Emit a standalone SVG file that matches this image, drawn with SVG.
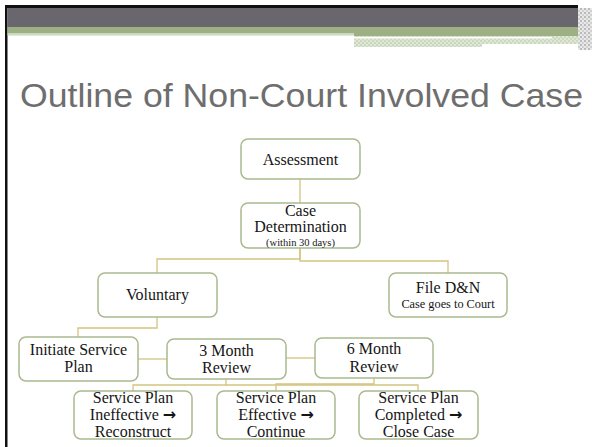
<svg xmlns="http://www.w3.org/2000/svg" width="592" height="447" viewBox="0 0 592 447">
<defs>
<pattern id="hatch" width="4" height="4" patternUnits="userSpaceOnUse">
<rect width="4" height="4" fill="#dfe7d6"/>
<rect width="2" height="2" fill="#cbd8bd"/>
<rect x="2" y="2" width="2" height="2" fill="#cbd8bd"/>
</pattern>
<pattern id="grayhatch" width="4" height="4" patternUnits="userSpaceOnUse">
<rect width="4" height="4" fill="#e4e4e4"/>
<rect width="2" height="2" fill="#a9a9a9"/>
<rect x="2" y="2" width="2" height="2" fill="#c4c4c4"/>
</pattern>
<style>
.node{fill:#ffffff;stroke:#a9ba8e;stroke-width:1.5}
.t{font-family:"Liberation Serif","Times New Roman",serif;font-size:16px;fill:#151515;text-anchor:middle}
.s{font-size:10.5px}
.m{font-size:12.3px}
.ar{font-family:"DejaVu Sans",sans-serif;font-weight:bold;font-size:16px}
.conn{fill:none;stroke:#d4c37f;stroke-width:1.3}
</style>
</defs>
<rect width="592" height="447" fill="#ffffff"/>
<!-- header -->
<rect x="5" y="5" width="573" height="3" fill="#111111"/>
<rect x="5" y="5" width="2.5" height="442" fill="#111111"/>
<rect x="7.5" y="8" width="570.5" height="19" fill="#6a666e"/>
<rect x="7.5" y="27" width="570.5" height="6" fill="#9db083"/>
<rect x="7.5" y="33" width="346.5" height="2.5" fill="#cbd7bf"/>
<rect x="354" y="33" width="224" height="3" fill="#9db083"/>
<rect x="354" y="36" width="224" height="8" fill="url(#hatch)"/>
<rect x="354" y="37" width="198" height="1.5" fill="#ffffff"/>
<rect x="354" y="44" width="128" height="3" fill="url(#hatch)"/>
<rect x="578" y="8" width="14" height="42" fill="url(#grayhatch)" opacity="0.8"/>
<text x="20" y="107" font-family="Liberation Sans, Arial, sans-serif" font-size="33" fill="#6e6e6e" textLength="563" lengthAdjust="spacingAndGlyphs">Outline of Non-Court Involved Case</text>
<!-- connectors -->
<g id="connectors">
<path class="conn" d="M300,179 V203"/>
<path class="conn" d="M300,248 V259 H157 V273"/>
<path class="conn" d="M300,248 V261 H448 V273"/>
<path class="conn" d="M157,317 V328 H78 V337"/>
<path class="conn" d="M138,359 H167"/>
<path class="conn" d="M286,358 H315"/>
<path class="conn" d="M226,379 V385 H133 V391"/>
<path class="conn" d="M226,385 H418 V391"/>
<path class="conn" d="M374,378 V384 H276 V391"/>
</g>
<!-- nodes -->
<g id="assessment">
<rect class="node" x="241" y="139" width="119" height="40" rx="7"/>
<text class="t" x="300.5" y="165">Assessment</text>
</g>
<g id="case-determination">
<rect class="node" x="241" y="203" width="119" height="45" rx="7"/>
<text class="t" x="300.5" y="216">Case</text>
<text class="t" x="300.5" y="232">Determination</text>
<text class="t s" x="300.5" y="245.5">(within 30 days)</text>
</g>
<g id="voluntary">
<rect class="node" x="98" y="273" width="119" height="44" rx="7"/>
<text class="t" x="157.5" y="300">Voluntary</text>
</g>
<g id="file-dn">
<rect class="node" x="389" y="273" width="118" height="44" rx="7"/>
<text class="t" x="448" y="293">File D&amp;N</text>
<text class="t m" x="448" y="308">Case goes to Court</text>
</g>
<g id="initiate-service-plan">
<rect class="node" x="19" y="337" width="119" height="44" rx="7"/>
<text class="t" x="78.5" y="355">Initiate Service</text>
<text class="t" x="78.5" y="372">Plan</text>
</g>
<g id="three-month-review">
<rect class="node" x="167" y="339" width="119" height="40" rx="7"/>
<text class="t" x="226.5" y="356">3 Month</text>
<text class="t" x="226.5" y="373">Review</text>
</g>
<g id="six-month-review">
<rect class="node" x="315" y="338" width="118" height="40" rx="7"/>
<text class="t" x="374" y="354">6 Month</text>
<text class="t" x="374" y="372">Review</text>
</g>
<g id="plan-ineffective">
<rect class="node" x="74" y="391" width="118" height="48" rx="7"/>
<text class="t" x="133" y="403">Service Plan</text>
<text class="t" x="133" y="420">Ineffective <tspan class="ar">→</tspan></text>
<text class="t" x="133" y="437">Reconstruct</text>
</g>
<g id="plan-effective">
<rect class="node" x="217" y="391" width="118" height="48" rx="7"/>
<text class="t" x="276" y="403">Service Plan</text>
<text class="t" x="276" y="420">Effective <tspan class="ar">→</tspan></text>
<text class="t" x="276" y="437">Continue</text>
</g>
<g id="plan-completed">
<rect class="node" x="359" y="391" width="119" height="48" rx="7"/>
<text class="t" x="418.5" y="403">Service Plan</text>
<text class="t" x="418.5" y="420">Completed <tspan class="ar">→</tspan></text>
<text class="t" x="418.5" y="437">Close Case</text>
</g>
</svg>
